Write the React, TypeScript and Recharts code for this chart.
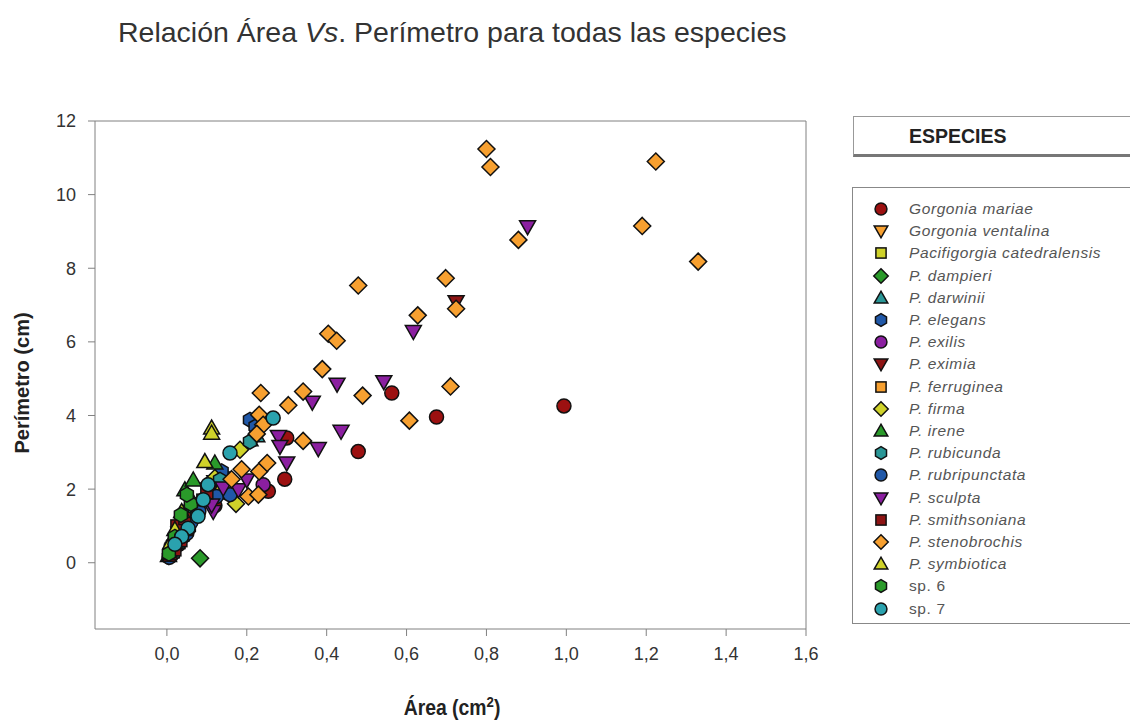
import React from "react"
import { ScatterChart, Scatter, XAxis, YAxis, ReferenceLine } from "recharts"

// axis ticks
const xTicks = [0, 0.2, 0.4, 0.6, 0.8, 1.0, 1.2, 1.4, 1.6]
const yTicks = [0, 2, 4, 6, 8, 10, 12]

// [area, perimetro] per species
const gorgoniaMariae = [[0.994, 4.26], [0.675, 3.96], [0.563, 4.61], [0.479, 3.02], [0.3, 3.39], [0.295, 2.27], [0.254, 1.94], [0.12, 1.55], [0.05, 0.85], [0.01, 0.2], [0.03, 0.5]]
const gorgoniaVentalina = [[0.06, 1.3], [0.1, 2.0], [0.14, 2.3]]
const pacCatedralensis = [[0.08, 1.6], [0.12, 2.05]]
const pDampieri = [[0.083, 0.12], [0.02, 0.6], [0.04, 1.0]]
const pDarwinii = [[0.004, 0.2], [0.018, 0.5], [0.03, 0.75], [0.05, 1.15], [0.208, 3.34], [0.225, 3.45], [0.01, 0.3], [0.025, 0.55], [0.04, 0.9], [0.06, 1.35]]
const pElegans = [[0.008, 0.3], [0.012, 0.45], [0.025, 0.65], [0.035, 0.85], [0.05, 1.2], [0.07, 1.55], [0.137, 2.48], [0.208, 3.88], [0.222, 3.7], [0.015, 0.3], [0.02, 0.55], [0.03, 0.7], [0.04, 1.0], [0.045, 1.35], [0.06, 1.3], [0.005, 0.15]]
const pExilis = [[0.241, 2.12], [0.15, 1.9], [0.05, 1.0], [0.03, 0.6]]
const pEximia = [[0.724, 7.09], [0.12, 2.2], [0.03, 0.8], [0.015, 0.3], [0.02, 0.4]]
const pFerruginea = [[0.15, 2.0], [0.09, 1.7]]
const pFirma = [[0.183, 3.07], [0.173, 1.6], [0.12, 2.3]]
const pIrene = [[0.012, 0.5], [0.025, 0.85], [0.04, 1.3], [0.045, 1.98], [0.066, 2.25], [0.12, 2.71]]
const pRubicunda = [[0.01, 0.4], [0.02, 0.6], [0.03, 0.8], [0.045, 1.05], [0.07, 1.45], [0.133, 2.25], [0.208, 3.29], [0.015, 0.25], [0.04, 0.7], [0.055, 0.95]]
const pRubripunctata = [[0.01, 0.3], [0.02, 0.5], [0.04, 0.9], [0.08, 1.4], [0.124, 1.8], [0.158, 1.85], [0.006, 0.15], [0.015, 0.4], [0.03, 0.6], [0.05, 0.8], [0.06, 1.1]]
const pSculpta = [[0.903, 9.13], [0.617, 6.28], [0.543, 4.92], [0.426, 4.85], [0.364, 4.36], [0.436, 3.57], [0.379, 3.1], [0.279, 3.43], [0.283, 3.16], [0.3, 2.71], [0.141, 2.03], [0.179, 1.98], [0.2, 2.25], [0.116, 1.39], [0.112, 1.57]]
const pSmithsoniana = [[0.006, 0.2], [0.015, 0.45], [0.028, 0.7], [0.04, 0.95], [0.1, 1.9], [0.01, 0.25], [0.02, 0.35], [0.035, 0.6], [0.05, 0.9], [0.025, 1.0], [0.045, 1.2]]
const pStenobrochis = [[0.8, 11.24], [0.81, 10.75], [1.224, 10.9], [1.19, 9.15], [1.33, 8.18], [0.88, 8.77], [0.479, 7.53], [0.698, 7.73], [0.724, 6.9], [0.628, 6.72], [0.404, 6.22], [0.425, 6.03], [0.389, 5.26], [0.341, 4.65], [0.49, 4.54], [0.71, 4.79], [0.607, 3.86], [0.341, 3.31], [0.235, 4.61], [0.304, 4.28], [0.231, 4.02], [0.241, 3.75], [0.225, 3.5], [0.187, 2.54], [0.162, 2.27], [0.231, 2.48], [0.251, 2.71], [0.204, 1.8], [0.229, 1.85]]
const pSymbiotica = [[0.112, 3.66], [0.112, 3.52], [0.095, 2.75], [0.062, 1.71], [0.037, 1.39], [0.02, 0.9], [0.01, 0.55]]
const sp6 = [[0.005, 0.25], [0.02, 0.7], [0.035, 1.3], [0.06, 1.6], [0.05, 1.85]]
const sp7 = [[0.266, 3.93], [0.158, 2.98], [0.103, 2.12], [0.091, 1.71], [0.078, 1.26], [0.053, 0.94], [0.037, 0.71], [0.02, 0.5]]

const species = [
  { name: "Gorgonia mariae", pts: gorgoniaMariae, sym: "circle", color: "#9c1111", italic: true },
  { name: "Gorgonia ventalina", pts: gorgoniaVentalina, sym: "triDown", color: "#f7a030", italic: true },
  { name: "Pacifigorgia catedralensis", pts: pacCatedralensis, sym: "square", color: "#cfd22a", italic: true },
  { name: "P. dampieri", pts: pDampieri, sym: "diamond", color: "#2a9a2a", italic: true },
  { name: "P. darwinii", pts: pDarwinii, sym: "triUp", color: "#2a9696", italic: true },
  { name: "P. elegans", pts: pElegans, sym: "hex", color: "#2058a8", italic: true },
  { name: "P. exilis", pts: pExilis, sym: "circle", color: "#8b1fa0", italic: true },
  { name: "P. eximia", pts: pEximia, sym: "triDown", color: "#8e1414", italic: true },
  { name: "P. ferruginea", pts: pFerruginea, sym: "square", color: "#f7a030", italic: true },
  { name: "P. firma", pts: pFirma, sym: "diamond", color: "#cfd22a", italic: true },
  { name: "P. irene", pts: pIrene, sym: "triUp", color: "#2a9a2a", italic: true },
  { name: "P. rubicunda", pts: pRubicunda, sym: "hex", color: "#2a9696", italic: true },
  { name: "P. rubripunctata", pts: pRubripunctata, sym: "circle", color: "#2058a8", italic: true },
  { name: "P. sculpta", pts: pSculpta, sym: "triDown", color: "#8b1fa0", italic: true },
  { name: "P. smithsoniana", pts: pSmithsoniana, sym: "square", color: "#8e1414", italic: true },
  { name: "P. stenobrochis", pts: pStenobrochis, sym: "diamond", color: "#f7a030", italic: true },
  { name: "P. symbiotica", pts: pSymbiotica, sym: "triUp", color: "#cfd22a", italic: true },
  { name: "sp. 6", pts: sp6, sym: "hex", color: "#2a9a2a", italic: false },
  { name: "sp. 7", pts: sp7, sym: "circle", color: "#2aa2ae", italic: false },
]

function Marker({ sym, color, cx, cy, s = 1 }: any) {
  const common = { fill: color, stroke: "#111", strokeWidth: 1.5 }
  if (sym === "circle") return <circle cx={cx} cy={cy} r={7 * s} {...common} />
  if (sym === "square") return <rect x={cx - 6 * s} y={cy - 6 * s} width={12 * s} height={12 * s} {...common} />
  if (sym === "diamond")
    return <polygon points={`${cx},${cy - 8.5 * s} ${cx + 8.5 * s},${cy} ${cx},${cy + 8.5 * s} ${cx - 8.5 * s},${cy}`} {...common} />
  if (sym === "triDown")
    return <polygon points={`${cx - 8 * s},${cy - 6 * s} ${cx + 8 * s},${cy - 6 * s} ${cx},${cy + 8 * s}`} {...common} />
  if (sym === "triUp")
    return <polygon points={`${cx - 8 * s},${cy + 6 * s} ${cx + 8 * s},${cy + 6 * s} ${cx},${cy - 8 * s}`} {...common} />
  // hexagon, pointy top
  const r = 7.5 * s
  const pts = [90, 150, 210, 270, 330, 30]
    .map((a) => `${cx + r * Math.cos((a * Math.PI) / 180)},${cy - r * Math.sin((a * Math.PI) / 180)}`)
    .join(" ")
  return <polygon points={pts} {...common} />
}

const fmt = (v: number) => v.toFixed(1).replace(".", ",")
const font = "'Liberation Sans', Arial, sans-serif"

export default function App() {
  return (
    <div style={{ position: "relative", width: 1130, height: 726, background: "#fff", fontFamily: font, overflow: "hidden" }}>
      <style>{"body{margin:0}"}</style>
      <div style={{ position: "absolute", left: 118, top: 16, fontSize: 28.5, color: "#333", whiteSpace: "nowrap" }}>
        Relación Área <i>Vs</i>. Perímetro para todas las especies
      </div>

      <ScatterChart width={1130} height={726} margin={{ top: 121, right: 324, bottom: 67, left: 35 }} style={{ position: "absolute", left: 0, top: 0 }}>
        <XAxis
          type="number"
          dataKey="x"
          domain={[-0.18, 1.6]}
          allowDataOverflow
          ticks={xTicks}
          tickFormatter={fmt}
          height={30}
          tickSize={7}
          tickMargin={11}
          stroke="#808080"
          tick={{ fill: "#333", fontSize: 18, fontFamily: font }}
        />
        <YAxis
          type="number"
          dataKey="y"
          domain={[-1.8, 12]}
          allowDataOverflow
          ticks={yTicks}
          width={60}
          tickSize={7}
          tickMargin={12}
          stroke="#808080"
          tick={{ fill: "#333", fontSize: 18, fontFamily: font }}
        />
        <ReferenceLine y={12} stroke="#808080" />
        <ReferenceLine x={1.6} stroke="#808080" />
        {species.map((sp) => (
          <Scatter
            key={sp.name}
            name={sp.name}
            data={sp.pts.map(([x, y]) => ({ x, y }))}
            isAnimationActive={false}
            shape={(p: any) => <Marker sym={sp.sym} color={sp.color} cx={p.cx} cy={p.cy} />}
          />
        ))}
      </ScatterChart>

      <div
        style={{
          position: "absolute",
          left: 4,
          top: 383,
          transform: "translate(-50%, -50%) rotate(-90deg)",
          transformOrigin: "center",
          marginLeft: 18,
          fontSize: 20,
          fontWeight: "bold",
          color: "#222",
          whiteSpace: "nowrap",
        }}
      >
        Perímetro (cm)
      </div>
      <div
        style={{
          position: "absolute",
          left: 452,
          top: 693,
          transform: "translateX(-50%) scaleX(0.88)",
          fontSize: 22,
          fontWeight: "bold",
          color: "#222",
          whiteSpace: "nowrap",
        }}
      >
        Área (cm<sup style={{ fontSize: 15 }}>2</sup>)
      </div>

      <div
        style={{
          position: "absolute",
          left: 853,
          top: 116,
          width: 290,
          height: 41,
          border: "1px solid #999",
          borderBottom: "3px solid #777",
          boxSizing: "border-box",
        }}
      >
        <div style={{ position: "absolute", left: 55, top: 8, fontSize: 19.5, fontWeight: "bold", color: "#222" }}>ESPECIES</div>
      </div>

      <div style={{ position: "absolute", left: 852, top: 187, width: 290, height: 437, border: "1px solid #888", boxSizing: "border-box" }}>
        {species.map((sp, i) => (
          <div key={sp.name} style={{ position: "absolute", left: 0, top: 12 + i * 22.2, height: 18, width: 280 }}>
            <svg width={24} height={18} style={{ position: "absolute", left: 16, top: 0 }}>
              <Marker sym={sp.sym} color={sp.color} cx={12} cy={9} s={0.85} />
            </svg>
            <span
              style={{
                position: "absolute",
                left: 56,
                top: 0,
                fontSize: 15.5,
                letterSpacing: 0.6,
                fontStyle: sp.italic ? "italic" : "normal",
                color: "#555",
                whiteSpace: "nowrap",
              }}
            >
              {sp.name}
            </span>
          </div>
        ))}
      </div>
    </div>
  )
}
